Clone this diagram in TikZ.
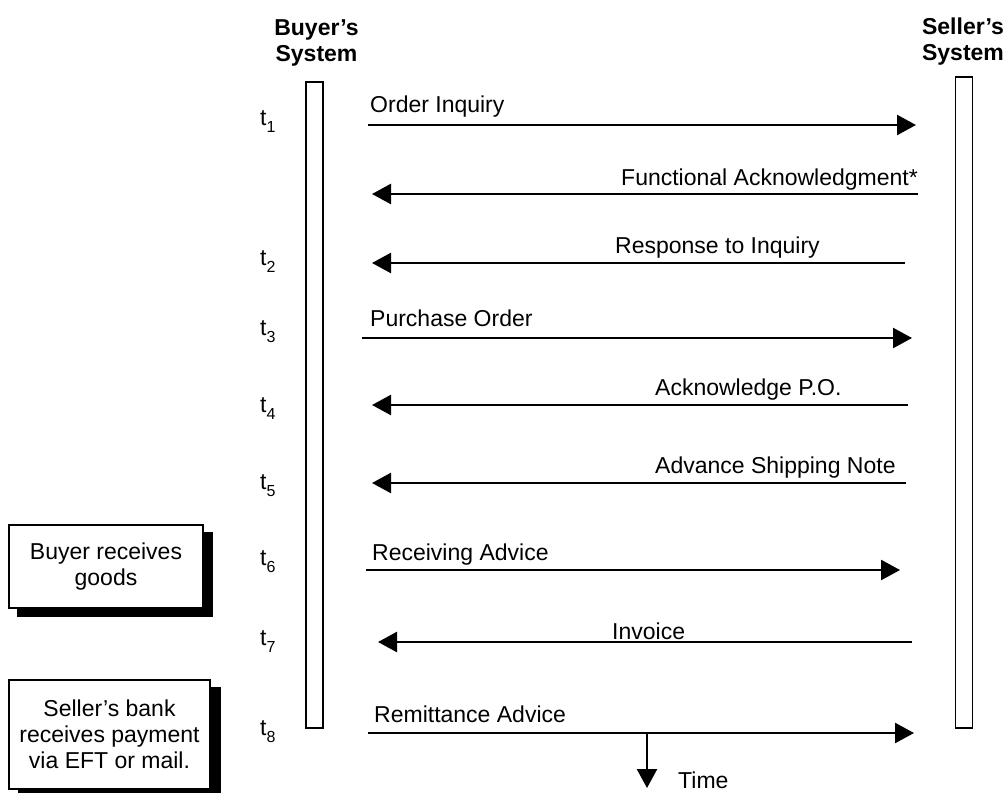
\documentclass[tikz,border=0pt]{standalone}
\usepackage{fontspec}
\setmainfont{Liberation Sans}
\usetikzlibrary{arrows.meta}
\pgfdeclarelayer{background}
\pgfsetlayers{background,main}
\newcommand{\msgfont}{\fontsize{23}{26}\selectfont}
\newcommand{\tsub}[1]{t\raisebox{-7pt}{\fontsize{16}{16}\selectfont #1}}

\tikzset{
  msg/.style={line width=2.5pt,-{Triangle[length=19pt,width=20pt]}},
  lbl/.style={font=\msgfont,inner sep=0pt},
  bar/.style={draw,line width=1.2pt,fill=white,minimum width=17pt,inner sep=0pt},
  notebox/.style={draw,line width=1.2pt,fill=white,font=\msgfont,align=center,inner sep=0pt}
}

\begin{document}
\begin{tikzpicture}[x=1pt,y=-1pt]
\useasboundingbox (0,0) rectangle (1008,792);
% the two systems
\node[lbl,font=\msgfont\bfseries,align=center,anchor=base] (buyerhd) at (316.5,62) {Buyer's\\System};
\node[lbl,font=\msgfont\bfseries,align=center,anchor=base] (sellerhd) at (963,60) {Seller's\\System};
\node[bar,minimum height=646pt] (buyer) at (314.5,405) {};
\node[bar,minimum height=651pt] (seller) at (964,402.5) {};
% notes on the left, shadow behind
\node[notebox,minimum width=194pt,minimum height=83pt] (goods) at (106,566.5) {Buyer receives\\goods};
\node[notebox,minimum width=201pt,minimum height=109pt] (bank) at (109.5,734.5) {Seller's bank\\receives payment\\via EFT or mail.};
\begin{pgfonlayer}{background}
\fill ([shift={(9,8)}]goods.south west) rectangle ([shift={(9,8)}]goods.north east);
\fill ([shift={(10,8)}]bank.south west) rectangle ([shift={(10,8)}]bank.north east);
\end{pgfonlayer}
% time marks
\node[lbl,anchor=base west] (t1) at (260,125) {\tsub{1}};
\node[lbl,anchor=base west] (t2) at (260,265) {\tsub{2}};
\node[lbl,anchor=base west] (t3) at (260,335) {\tsub{3}};
\node[lbl,anchor=base west] (t4) at (260,412) {\tsub{4}};
\node[lbl,anchor=base west] (t5) at (260,489) {\tsub{5}};
\node[lbl,anchor=base west] (t6) at (260,565) {\tsub{6}};
\node[lbl,anchor=base west] (t7) at (260,645) {\tsub{7}};
\node[lbl,anchor=base west] (t8) at (260,735) {\tsub{8}};
% messages
\coordinate (b1) at (368,125); \coordinate (s1) at (916,125);
\draw[msg] (b1) -- (s1); %t1
\node[lbl,anchor=base west] (m1) at (370,112) {Order Inquiry};
\coordinate (b2) at (372,194); \coordinate (s2) at (918,194);
\draw[msg] (s2) -- (b2);
\node[lbl,anchor=base east] (m2) at (918,185) {Functional Acknowledgment*};
\coordinate (b3) at (372,263); \coordinate (s3) at (905,263);
\draw[msg] (s3) -- (b3); %t2
\node[lbl,anchor=base west] (m3) at (615,253) {Response to Inquiry};
\coordinate (b4) at (362,338); \coordinate (s4) at (912,338);
\draw[msg] (b4) -- (s4); %t3
\node[lbl,anchor=base west] (m4) at (370,326) {Purchase Order};
\coordinate (b5) at (372,405); \coordinate (s5) at (908,405);
\draw[msg] (s5) -- (b5); %t4
\node[lbl,anchor=base west] (m5) at (655,395) {Acknowledge P.O.};
\coordinate (b6) at (372,483); \coordinate (s6) at (906,483);
\draw[msg] (s6) -- (b6); %t5
\node[lbl,anchor=base west] (m6) at (655,473) {Advance Shipping Note};
\coordinate (b7) at (366,570); \coordinate (s7) at (900,570);
\draw[msg] (b7) -- (s7); %t6
\node[lbl,anchor=base west] (m7) at (372,560) {Receiving Advice};
\coordinate (b8) at (378,642); \coordinate (s8) at (912,642);
\draw[msg] (s8) -- (b8); %t7
\node[lbl,anchor=base west] (m8) at (612,639) {Invoice};
\coordinate (b9) at (368,733); \coordinate (s9) at (914,733);
\draw[msg] (b9) -- (s9); %t8
\node[lbl,anchor=base west] (m9) at (374,722) {Remittance Advice};
% time runs downwards
\coordinate (tstart) at (647,733); \coordinate (tend) at (647,788);
\draw[msg] (tstart) -- (tend);
\node[lbl,anchor=base west] (time) at (678,788) {Time};
\end{tikzpicture}
\end{document}
